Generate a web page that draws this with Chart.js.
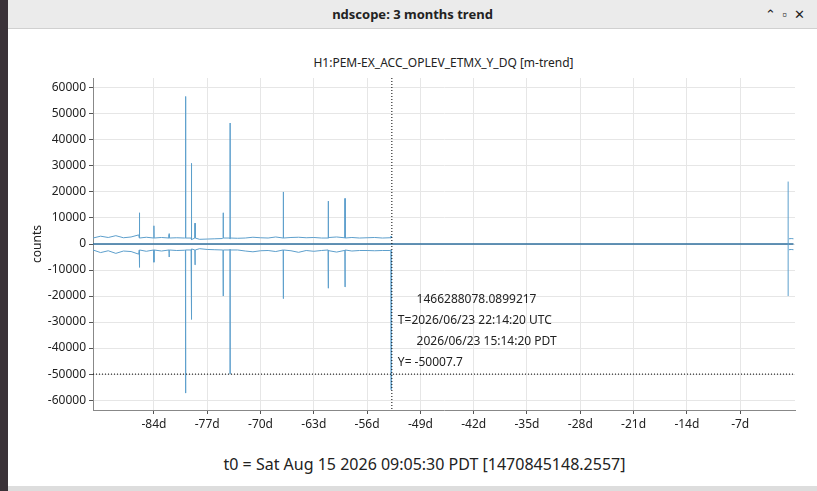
<!DOCTYPE html>
<html><head><meta charset="utf-8">
<script src="https://cdn.jsdelivr.net/npm/chart.js@4"></script>
<style>
body{margin:0;width:817px;height:491px;overflow:hidden;background:#3a3238;font-family:"Noto Sans",sans-serif;}
#win{position:absolute;left:8px;top:0;width:809px;height:491px;background:#fff;}
#bar{position:absolute;left:0;top:0;width:809px;height:28px;background:#ebebeb;border-bottom:1px solid #d0d0d0;font-weight:bold;font-size:13px;text-align:center;line-height:28px;color:#222;}
#ttl{position:absolute;left:0;top:54px;width:809px;text-align:center;font-size:12px;color:#222;padding-left:62px;box-sizing:border-box;}
#t0{position:absolute;left:0;top:453px;width:809px;text-align:center;font-size:16px;color:#222;padding-left:24px;box-sizing:border-box;}
#wrap{position:absolute;left:0;top:28px;width:805px;height:425px;}
#btm{position:absolute;left:0;top:486px;width:809px;height:5px;background:#ddd;}
</style></head><body>
<div id="win">
<div id="bar">ndscope: 3 months trend<span style="position:absolute;right:12px;font-weight:normal">⌃ &nbsp;▫ &nbsp;✕</span></div>
<div id="ttl">H1:PEM-EX_ACC_OPLEV_ETMX_Y_DQ [m-trend]</div>
<div id="wrap"><canvas id="c" width="805" height="425"></canvas></div>
<div id="t0">t0 = Sat Aug 15 2026 09:05:30 PDT [1470845148.2557]</div>
<div id="btm"></div>
</div>
<script>
// trend days (relative to t0)
const baseDays = [-92,-91,-90,-89,-88,-87,-86,-85,-84,-83,-82,-81,-80,-79,-78,-77,-76,-75,-74,-73,-72,-71,-70,-69,-68,-67,-66,-65,-64,-63,-62,-61,-60,-59,-58,-57,-56,-55,-54,-53];
const baseMax = [2300,3000,2500,3200,2400,2700,3500,2600,3100,2500,3600,2400,2300,1700,1800,1900,2000,2100,1900,2200,2300,2600,2400,2300,2700,2300,2500,2600,2400,2500,2300,2500,2700,2400,2500,2300,2400,2500,2300,2400];
const baseMin = [-2300,-3300,-2600,-3600,-2700,-2900,-3900,-2800,-3400,-2700,-3700,-2500,-2400,-1900,-1800,-2100,-2200,-2300,-2100,-2300,-2700,-3000,-2600,-2500,-2900,-2500,-2600,-3200,-2500,-2800,-2500,-2600,-3100,-2500,-2700,-2500,-2500,-2600,-2500,-2500];
const spikeDays = [-85.9,-84,-82,-79.84,-79.1,-78.6,-74.9,-74.0,-67.0,-61.1,-58.9,-52.85,-0.7];
const spikeMax = [12000,7000,4000,56700,31000,8000,12000,46500,20000,16500,17500,3000,24000];
const spikeMin = [-9000,-7000,-5000,-57300,-29000,-8000,-20000,-50000,-21000,-17000,-16500,-56000,-20000];
const tailDays = [-0.6,-0.3,0];
const tailMax = [2000,2100,2000];
const tailMin = [-2200,-2100,-2200];
const meanDays = [-92,-52.85,-0.7,0];
const meanVals = [0,0,0,0];
const xTicks = [-84,-77,-70,-63,-56,-49,-42,-35,-28,-21,-14,-7];
const yTicks = [-60000,-50000,-40000,-30000,-20000,-10000,0,10000,20000,30000,40000,50000,60000];
const cursorT = -52.75, cursorY = -50007.7;
const cursorText = ['      1466288078.0899217','T=2026/06/23 22:14:20 UTC','      2026/06/23 15:14:20 PDT','Y= -50007.7'];

function build(days, base, sd, sv){
  const pts = days.map((d,i)=>({x:d,y:base[i]}));
  sd.forEach((d,i)=>{ if(d<-52){ pts.push({x:d-0.02,y:base[0]>0?2300:-2300}); pts.push({x:d,y:sv[i]}); pts.push({x:d+0.02,y:base[0]>0?2300:-2300}); } });
  return pts.sort((a,b)=>a.x-b.x);
}
const maxPts = build(baseDays, baseMax, spikeDays, spikeMax);
const minPts = build(baseDays, baseMin, spikeDays, spikeMin);
// vertical stroke at the right-hand spike, then short stubs
const tailMaxPts = [{x:spikeDays[12],y:spikeMin[12]},{x:spikeDays[12],y:spikeMax[12]}];
const stubMaxPts = tailDays.map((d,i)=>({x:d,y:tailMax[i]}));
const stubMinPts = tailDays.map((d,i)=>({x:d,y:tailMin[i]}));

const cursor = {
  id:'cursor',
  afterDatasetsDraw(ch){
    const {ctx, chartArea:a, scales:{x,y}} = ch;
    const px = x.getPixelForValue(cursorT), py = y.getPixelForValue(cursorY);
    ctx.save();
    ctx.strokeStyle='#000'; ctx.lineWidth=1; ctx.setLineDash([1,2]);
    ctx.beginPath(); ctx.moveTo(px,a.top); ctx.lineTo(px,a.bottom);
    ctx.moveTo(a.left,py); ctx.lineTo(a.right,py); ctx.stroke();
    ctx.fillStyle='#222'; ctx.font='12px "Noto Sans"'; ctx.textBaseline='middle';
    cursorText.forEach((t,i)=>ctx.fillText(t, px+6, py-75+i*21));
    ctx.restore();
  }
};
const ds = (data,color,w)=>({data,borderColor:color,borderWidth:w,pointRadius:0,tension:0});
new Chart(document.getElementById('c'),{
  type:'line',
  data:{datasets:[
    ds(maxPts,'#5d9fcc',1), ds(minPts,'#5d9fcc',1),
    ds(tailMaxPts,'#5d9fcc',1), ds(stubMaxPts,'#5d9fcc',1), ds(stubMinPts,'#5d9fcc',1),
    ds(meanDays.map((d,i)=>({x:d,y:meanVals[i]})),'#2f6f9e',1.3)
  ]},
  options:{
    responsive:false, animation:false, devicePixelRatio:1,
    layout:{padding:{top:50,right:18,left:22}},
    plugins:{legend:{display:false},tooltip:{enabled:false}},
    scales:{
      x:{type:'linear',min:-92,max:0.2,
        afterBuildTicks:s=>{s.ticks=xTicks.map(v=>({value:v}));},
        afterFit:s=>{s.height=43;},
        ticks:{callback:v=>v+'d',autoSkip:false,color:'#222',font:{size:12,family:'Noto Sans'},maxRotation:0},
        grid:{color:'#e6e6e6',tickColor:'#555',tickLength:4},border:{color:'#888'}},
      y:{min:-63800,max:63800,
        afterBuildTicks:s=>{s.ticks=yTicks.map(v=>({value:v}));},
        afterFit:s=>{s.width=63;},
        title:{display:true,text:'counts',color:'#222',font:{size:12,family:'Noto Sans'},padding:{top:0,bottom:0}},
        ticks:{callback:v=>String(v),autoSkip:false,color:'#222',font:{size:12,family:'Noto Sans'}},
        grid:{color:'#e6e6e6',tickColor:'#555',tickLength:4},border:{color:'#888'}}
    }
  },
  plugins:[cursor]
});
</script>
</body></html>
